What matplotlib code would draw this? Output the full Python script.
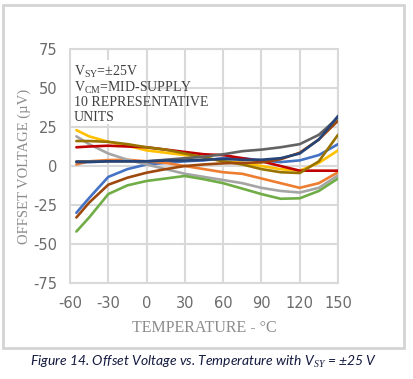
import matplotlib
matplotlib.use("Agg")
import matplotlib.pyplot as plt
from matplotlib.patches import Rectangle

temps = [-55, -45, -30, -15, 0, 15, 30, 45, 60, 75, 90, 105, 120, 135, 150]

unit_blue = [-30, -20.5, -7, -2, 1, 2, 3, 3.6, 5, 5, 3.6, 2.5, 3.6, 7, 14]
unit_orange = [1, 3, 3.8, 4, 3, 2, 0, -2, -4, -5, -8, -11, -14, -11, -4]
unit_gray = [19, 14, 8, 4, 1, -2, -5, -7, -9, -11, -14, -16, -17, -14, -6]
unit_yellow = [23, 19, 15.5, 13, 10, 8.5, 7, 5.5, 3, 2, 0, -2, -3, 2, 10]
unit_green = [-42, -33, -18, -12.4, -9.6, -8, -6.4, -8.5, -11, -14.5, -18, -21, -20.7, -16, -8]
unit_red = [12, 12.5, 13, 12.5, 12, 10.5, 9, 7.5, 7, 5, 3, 0, -3, -3, -3]
unit_olive = [16, 16, 15.5, 14, 12, 10.5, 8, 5.5, 3, 1, -2, -4, -4.5, 3, 20]
unit_brown = [-33, -23.5, -12, -7.5, -4.3, -2, 0, 1, 1.7, 2, 2.3, 4.3, 8.5, 17, 29]
unit_darkgray = [3, 3, 3, 3, 3, 4, 5, 6, 7.5, 9.5, 10.5, 12, 14, 20, 31]
unit_navy = [2.5, 2.5, 3, 3, 3, 3.5, 3.5, 4, 4.5, 4, 4, 5, 8, 17, 32]

series = [
    (unit_blue, "#4472C4"),
    (unit_orange, "#ED7D31"),
    (unit_gray, "#A5A5A5"),
    (unit_yellow, "#FFC000"),
    (unit_green, "#70AD47"),
    (unit_red, "#C00000"),
    (unit_olive, "#997300"),
    (unit_brown, "#9E480E"),
    (unit_darkgray, "#636363"),
    (unit_navy, "#264478"),
]

xticks = [-60, -30, 0, 30, 60, 90, 120, 150]
yticks = [-75, -50, -25, 0, 25, 50, 75]

plt.rcParams['axes.unicode_minus'] = False
plt.rcParams['mathtext.fontset'] = 'custom'
plt.rcParams['mathtext.rm'] = 'Liberation Serif'
plt.rcParams['mathtext.it'] = 'Liberation Serif:italic'

W, H = 414, 379
fig = plt.figure(figsize=(W / 100, H / 100), dpi=100)
fig.patch.set_facecolor('white')

# outer frame
fig.patches.append(Rectangle((3 / W, 1 - 348 / H), 401 / W, 343 / H,
                             transform=fig.transFigure, fill=False,
                             edgecolor='#d4d4d4', linewidth=2))

ax = fig.add_axes([70 / W, 1 - 283 / H, 268 / W, 234 / H])
ax.set_xlim(-60, 150)
ax.set_ylim(-75, 75)
ax.set_xticks(xticks)
ax.set_yticks(yticks)
ax.grid(True, color='#d9d9d9', linewidth=1.5)
ax.set_axisbelow(True)
for s in ax.spines.values():
    s.set_color('#d9d9d9')
    s.set_linewidth(1.5)
ax.tick_params(length=0, labelsize=10.5, labelcolor='#6b6b6b', pad=9)
for lab in ax.get_xticklabels() + ax.get_yticklabels():
    lab.set_family('DejaVu Sans')

for vals, col in series:
    ax.plot(temps, vals, color=col, linewidth=1.9, solid_capstyle='round',
            solid_joinstyle='round', zorder=3)

# annotation box
ax.add_patch(Rectangle((-59, 27), 57, 41, facecolor='white', edgecolor='none', zorder=2.5))
txt_kw = dict(fontfamily='Liberation Serif', fontsize=10, color='#404040', zorder=4,
              va='center_baseline')
ax.text(-57, 61.5, r"V$_{\mathrm{SY}}$=±25V", **txt_kw)
ax.text(-57, 51.5, r"V$_{\mathrm{CM}}$=MID-SUPPLY", **txt_kw)
ax.text(-57, 41.5, "10 REPRESENTATIVE", **txt_kw)
ax.text(-57, 31.8, "UNITS", **txt_kw)

ax.set_xlabel("TEMPERATURE - °C", fontfamily='Liberation Serif', fontsize=11.5,
              color='#8c8c8c', labelpad=7)
ax.set_ylabel("OFFSET VOLTAGE (µV)", fontfamily='Liberation Serif', fontsize=10.5,
              color='#8c8c8c', labelpad=2)

fig.text(204 / W, 1 - 362 / H, "Figure 14. Offset Voltage vs. Temperature with V$_{SY}$ = ±25 V",
         ha='center', va='center', fontsize=10, style='italic',
         fontfamily='Lato', color='#141a40')

fig.savefig('out.png', dpi=100)
